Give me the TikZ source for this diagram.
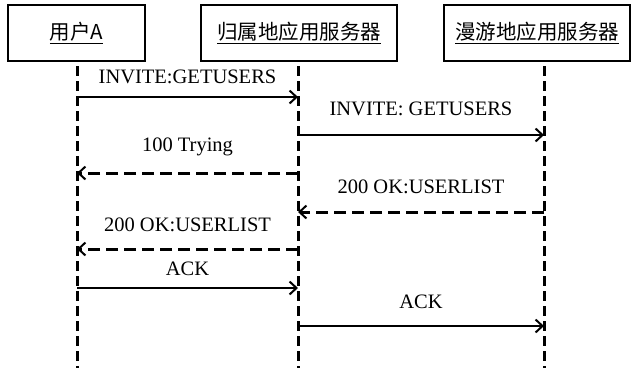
\documentclass[tikz,border=0pt]{standalone}
\usepackage{fontspec}
\setmainfont{Liberation Serif}
\newfontfamily\cjk{Noto Sans CJK SC}
\usetikzlibrary{arrows.meta}
\tikzset{
  actor/.style={draw, line width=2.5pt, minimum height=56pt, inner sep=0pt, font=\cjk\fontsize{20.5}{24}\selectfont},
  lifeline/.style={line width=3pt, dash pattern=on 10pt off 5pt},
  msg/.style={line width=2pt, -{Straight Barb[length=7pt,width=13pt,line width=2pt]}},
  reply/.style={msg, line width=3pt, dash pattern=on 12pt off 6pt},
  lbl/.style={font=\fontsize{20.5}{24}\selectfont, inner sep=0pt}
}
\begin{document}
\begin{tikzpicture}[x=1pt,y=-1pt]
\useasboundingbox (0,0) rectangle (634,368);
\node[actor, minimum width=137pt] (ua) at (76.5,33) {\underline{用户A}};
\node[actor, minimum width=196pt] (hs) at (299,33) {\underline{归属地应用服务器}};
\node[actor, minimum width=186pt] (rs) at (537,33) {\underline{漫游地应用服务器}};
% lifelines
\coordinate (ut) at (77,66); \coordinate (ub) at (77,368);
\coordinate (ht) at (298,66); \coordinate (hb) at (298,368);
\coordinate (rt) at (544,66); \coordinate (rb) at (544,368);
\draw[lifeline] (ut) -- (ub);
\draw[lifeline] (ht) -- (hb);
\draw[lifeline] (rt) -- (rb);
% message end points
\coordinate (u1) at (77,97);  \coordinate (h1) at (298,97);
\coordinate (h2) at (298,135); \coordinate (r2) at (544,135);
\coordinate (h3) at (298,173); \coordinate (u3) at (77,173);
\coordinate (r4) at (544,212); \coordinate (h4) at (298,212);
\coordinate (h5) at (298,249); \coordinate (u5) at (77,249);
\coordinate (u6) at (77,288);  \coordinate (h6) at (298,288);
\coordinate (h7) at (298,326); \coordinate (r7) at (544,326);
\draw[msg] (u1) -- (h1) node[lbl, midway, above=12pt] (m1) {INVITE:GETUSERS};
\draw[msg] (h2) -- (r2) node[lbl, midway, above=18pt] (m2) {INVITE: GETUSERS};
\draw[reply] (h3) -- (u3) node[lbl, midway, above=16pt] (m3) {100 Trying};
\draw[reply] (r4) -- (h4) node[lbl, midway, above=17pt] (m4) {200 OK:USERLIST};
\draw[reply] (h5) -- (u5) node[lbl, midway, above=16pt] (m5) {200 OK:USERLIST};
\draw[msg] (u6) -- (h6) node[lbl, midway, above=11pt] (m6) {ACK};
\draw[msg] (h7) -- (r7) node[lbl, midway, above=16pt] (m7) {ACK};
\end{tikzpicture}
\end{document}
